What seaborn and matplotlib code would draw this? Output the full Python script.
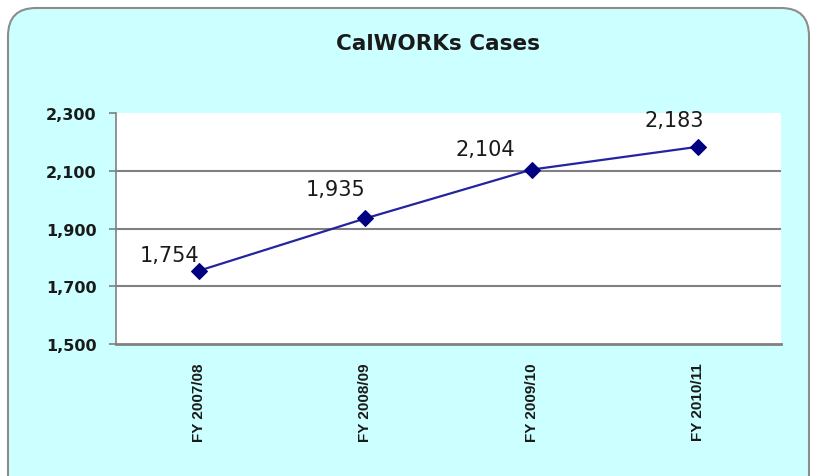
import matplotlib
matplotlib.use('Agg')
import matplotlib.pyplot as plt
import seaborn as sns
from matplotlib.patches import FancyBboxPatch
from matplotlib.transforms import IdentityTransform

# data
fiscal_years = ['FY 2007/08', 'FY 2008/09', 'FY 2009/10', 'FY 2010/11']
cases = [1754, 1935, 2104, 2183]
y_ticks = [1500, 1700, 1900, 2100, 2300]

sns.set_style('white')
plt.rcParams['font.family'] = ['DejaVu Sans']

fig = plt.figure(figsize=(8.13, 4.77), dpi=100, facecolor='white')

# rounded light cyan panel behind everything
panel = FancyBboxPatch((8, -30), 801, 498, boxstyle='round,pad=0,rounding_size=28',
                       transform=IdentityTransform(), facecolor='#CCFFFF',
                       edgecolor='#8C8C8C', linewidth=1.5, zorder=-5)
fig.add_artist(panel)

ax = fig.add_axes([0.1427, 0.2767, 0.8179, 0.4843])
ax.set_facecolor('white')

sns.lineplot(x=fiscal_years, y=cases, ax=ax, color='#2424A0', linewidth=1.6,
             marker='D', markersize=8, markerfacecolor='#000080',
             markeredgecolor='#000080', zorder=3)

ax.set_xlim(-0.5, 3.5)
ax.set_ylim(1500, 2300)
ax.set_yticks(y_ticks)
ax.set_yticklabels([f'{v:,}' for v in y_ticks], fontsize=11.5, fontweight='bold', color='#1a1a1a')
ax.set_xticks(range(len(fiscal_years)))
ax.set_xticklabels(fiscal_years, rotation=90, fontsize=11, fontweight='bold',
                   family='Liberation Sans', color='#1a1a1a')

ax.yaxis.grid(True, color='#808080', linewidth=1.5)
ax.get_ygridlines()[-1].set_visible(False)
ax.get_ygridlines()[0].set_visible(False)

for s in ['top', 'right']:
    ax.spines[s].set_visible(False)
ax.spines['left'].set_color('#808080')
ax.spines['left'].set_linewidth(1.2)
ax.spines['bottom'].set_color('#808080')
ax.spines['bottom'].set_linewidth(2)
ax.tick_params(axis='y', direction='out', length=5, width=1.2, color='#808080', pad=9, left=True)
ax.tick_params(axis='x', length=0, pad=13)
ax.set_xlabel('')
ax.set_ylabel('')

# data labels, offset up-left like the original
label_offsets = [(-30, 16), (-30, 29), (-46, 21), (-24, 27)]
for i, (v, off) in enumerate(zip(cases, label_offsets)):
    ax.annotate(f'{v:,}', (i, v), xytext=off, textcoords='offset pixels',
                ha='center', va='center', fontsize=15, color='#1a1a1a')

fig.text(0.539, 0.908, 'CalWORKs Cases', ha='center', va='center',
         fontsize=15.5, fontweight='bold', color='#1a1a1a')

fig.savefig('out.png', dpi=100, facecolor='white')
